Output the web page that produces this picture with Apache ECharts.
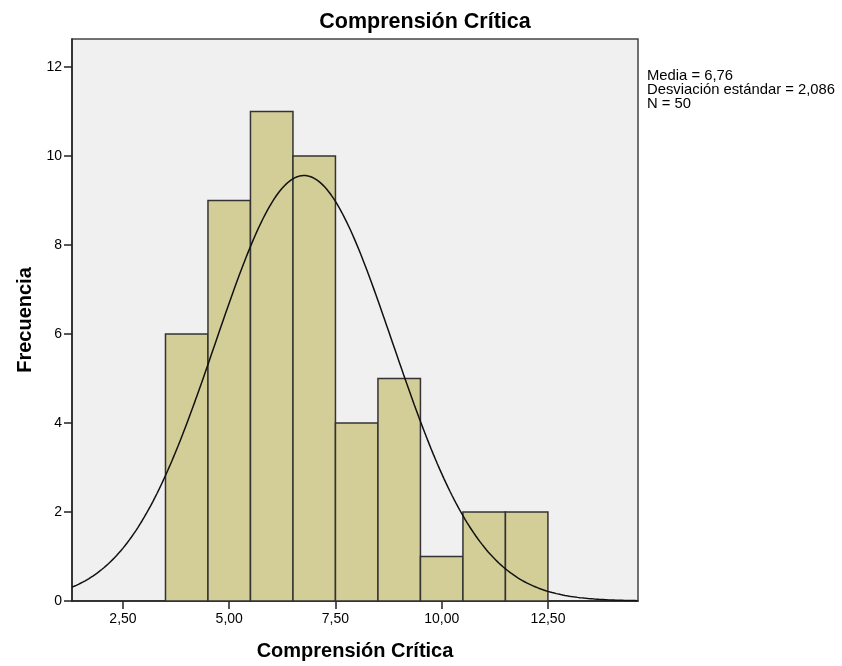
<!DOCTYPE html>
<html><head><meta charset="utf-8">
<script src="https://cdn.jsdelivr.net/npm/echarts@6/dist/echarts.min.js"></script>
<style>html,body{margin:0;padding:0;background:#fff}#c{width:842px;height:666px}</style>
</head><body><div id="c"></div>
<script>
// Histogram data
const binStarts = [3.5, 4.5, 5.5, 6.5, 7.5, 8.5, 9.5, 10.5, 11.5];
const binEnds   = [4.5, 5.5, 6.5, 7.5, 8.5, 9.5, 10.5, 11.5, 12.5];
const frequencies = [6, 9, 11, 10, 4, 5, 1, 2, 2];
const xTickValues = [2.5, 5, 7.5, 10, 12.5];
const yTickValues = [0, 2, 4, 6, 8, 10, 12];
const media = 6.76;
const desviacion = 2.086;
const nTotal = 50;
const binWidth = 1;

// Fitted normal curve from stated mean / sd / N
const curve = [];
for (let x = 1.3; x <= 14.62; x += 0.05) {
  const z = (x - media) / desviacion;
  curve.push([x, nTotal * binWidth * Math.exp(-0.5 * z * z) / (desviacion * Math.sqrt(2 * Math.PI))]);
}
const barData = binStarts.map((s, i) => [s, binEnds[i], frequencies[i]]);

const chart = echarts.init(document.getElementById('c'));
const font = 'Liberation Sans, Arial, sans-serif';
chart.setOption({
  animation: false,
  title: {
    text: 'Comprensión Crítica', left: 420, top: 6, textAlign: 'center',
    textStyle: { fontFamily: font, fontSize: 21.5, fontWeight: 'bold', color: '#000' }
  },
  graphic: [{
    type: 'text', left: 647, top: 68,
    style: {
      text: 'Media = 6,76\nDesviación estándar = 2,086\nN = 50',
      fontFamily: font, fontSize: 14.8, lineHeight: 14, fill: '#000'
    }
  }],
  grid: {
    left: 72, right: 204, top: 39, bottom: 65, show: true,
    backgroundColor: '#F0F0F0', borderColor: '#444', borderWidth: 1.5
  },
  xAxis: {
    type: 'value', min: 1.3, max: 14.62,
    name: 'Comprensión Crítica', nameLocation: 'middle', nameGap: 40,
    nameTextStyle: { fontFamily: font, fontSize: 20, fontWeight: 'bold', color: '#000' },
    splitLine: { show: false },
    axisLine: { show: true, lineStyle: { color: '#222', width: 1.5 } },
    axisTick: { show: true, customValues: xTickValues, length: 8, lineStyle: { color: '#222', width: 1.5 } },
    axisLabel: {
      customValues: xTickValues, margin: 11, color: '#000', fontFamily: font, fontSize: 14,
      formatter: v => v.toFixed(2).replace('.', ',')
    }
  },
  yAxis: {
    type: 'value', min: 0, max: 12.63,
    name: 'Frecuencia', nameLocation: 'middle', nameGap: 37, nameRotate: 90,
    nameTextStyle: { fontFamily: font, fontSize: 20, fontWeight: 'bold', color: '#000' },
    splitLine: { show: false },
    axisLine: { show: true, lineStyle: { color: '#222', width: 1.5 } },
    axisTick: { show: true, customValues: yTickValues, length: 8, lineStyle: { color: '#222', width: 1.5 } },
    axisLabel: { customValues: yTickValues, margin: 10, color: '#000', fontFamily: font, fontSize: 14 }
  },
  series: [{
    type: 'custom',
    data: barData,
    encode: { x: [0, 1], y: 2 },
    renderItem: function (params, api) {
      const p0 = api.coord([api.value(0), api.value(2)]);
      const p1 = api.coord([api.value(1), 0]);
      return {
        type: 'rect',
        shape: { x: p0[0], y: p0[1], width: p1[0] - p0[0], height: p1[1] - p0[1] },
        style: { fill: '#D3CE98', stroke: '#333', lineWidth: 1.5 }
      };
    },
    z: 2
  }, {
    type: 'line', data: curve, showSymbol: false, smooth: false,
    lineStyle: { color: '#111', width: 1.5 }, z: 3, clip: true
  }]
});
</script></body></html>
